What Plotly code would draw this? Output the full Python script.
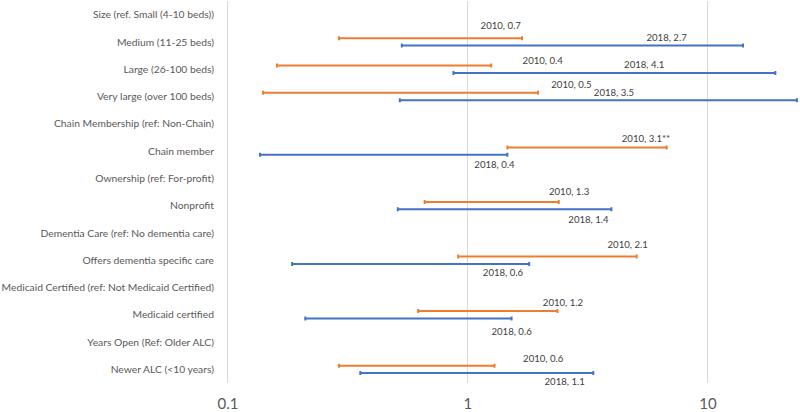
import math
import plotly.graph_objects as go

categories = [
    "Size (ref. Small (4-10 beds))",
    "Medium (11-25 beds)",
    "Large (26-100 beds)",
    "Very large (over 100 beds)",
    "Chain Membership (ref: Non-Chain)",
    "Chain member",
    "Ownership (ref: For-profit)",
    "Nonprofit",
    "Dementia Care (ref: No dementia care)",
    "Offers dementia specific care",
    "Medicaid Certified (ref: Not Medicaid Certified)",
    "Medicaid certified",
    "Years Open (Ref: Older ALC)",
    "Newer ALC (<10 years)",
]

# 2010 odds ratios and 95% CI
or_2010 = [None, 0.7, 0.4, 0.5, None, 3.1, None, 1.3, None, 2.1, None, 1.2, None, 0.6]
lo_2010 = [None, 0.29, 0.16, 0.14, None, 1.46, None, 0.66, None, 0.91, None, 0.62, None, 0.29]
hi_2010 = [None, 1.68, 1.25, 1.96, None, 6.73, None, 2.39, None, 5.05, None, 2.36, None, 1.29]
lab_2010 = [None, "2010, 0.7", "2010, 0.4", "2010, 0.5", None, "2010, 3.1**", None,
            "2010, 1.3", None, "2010, 2.1", None, "2010, 1.2", None, "2010, 0.6"]

# 2018 odds ratios and 95% CI
or_2018 = [None, 2.7, 4.1, 3.5, None, 0.4, None, 1.4, None, 0.6, None, 0.6, None, 1.1]
lo_2018 = [None, 0.53, 0.87, 0.52, None, 0.136, None, 0.51, None, 0.185, None, 0.21, None, 0.356]
hi_2018 = [None, 14.0, 19.1, 23.5, None, 1.46, None, 3.96, None, 1.80, None, 1.52, None, 3.33]
lab_2018 = [None, "2018, 2.7", "2018, 4.1", "2018, 3.5", None, "2018, 0.4", None,
            "2018, 1.4", None, "2018, 0.6", None, "2018, 0.6", None, "2018, 1.1"]

x_ticks = [0.1, 1, 10]
x_tick_labels = ["0.1", "1", "10"]

# label placement (layout, not data)
lab_x_2010 = [None, 1.37, 2.05, 2.70, None, 5.52, None, 2.64, None, 4.63, None, 2.49, None, 2.06]
lab_dy_2010 = [None, -0.56, -0.29, -0.385, None, -0.407, None, -0.49, None, -0.533, None, -0.423, None, -0.345]
lab_x_2018 = [None, 6.73, 5.43, 4.06, None, 1.29, None, 3.18, None, 1.40, None, 1.52, None, 2.53]
lab_dy_2018 = [None, -0.108, -0.144, -0.118, None, 0.535, None, 0.55, None, 0.504, None, 0.64, None, 0.487]

ORANGE = "#ED7D31"
BLUE = "#4472C4"
OFF = 0.135
FONT = "Lato, sans-serif"

def build(ors, los, his, off):
    xs, ys, ep, em = [], [], [], []
    for i, (o, l, h) in enumerate(zip(ors, los, his)):
        if o is None:
            continue
        xs.append(o)
        ys.append(i + off)
        ep.append(h - o)
        em.append(o - l)
    return xs, ys, ep, em

fig = go.Figure()
for ors, los, his, off, col, name in [
    (or_2010, lo_2010, hi_2010, -OFF, ORANGE, "2010"),
    (or_2018, lo_2018, hi_2018, OFF, BLUE, "2018"),
]:
    xs, ys, ep, em = build(ors, los, his, off)
    fig.add_trace(go.Scatter(
        x=xs, y=ys, mode="markers", name=name,
        marker=dict(size=1, color="rgba(0,0,0,0)"),
        error_x=dict(type="data", symmetric=False, array=ep, arrayminus=em,
                     color=col, thickness=2, width=2),
        showlegend=False, hoverinfo="skip",
    ))

for labs, lx, ldy in [(lab_2010, lab_x_2010, lab_dy_2010), (lab_2018, lab_x_2018, lab_dy_2018)]:
    xs, ys, ts = [], [], []
    for i, (t, x, dy) in enumerate(zip(labs, lx, ldy)):
        if t is None:
            continue
        xs.append(x)
        ys.append(i + dy)
        ts.append(t)
    fig.add_trace(go.Scatter(
        x=xs, y=ys, mode="text", text=ts, textposition="middle center",
        textfont=dict(family=FONT, size=9.6, color="#404040"),
        showlegend=False, hoverinfo="skip", cliponaxis=False,
    ))

fig.update_layout(
    width=800, height=412,
    margin=dict(l=228, r=0, t=1, b=29, autoexpand=False),
    paper_bgcolor="white", plot_bgcolor="white",
    font=dict(family=FONT, color="#595959"),
)
fig.update_xaxes(
    type="log", range=[-1, math.log10(24.2)],
    tickvals=x_ticks, ticktext=x_tick_labels,
    tickfont=dict(size=15, color="#595959"),
    showgrid=True, gridcolor="#d9d9d9", gridwidth=1,
    zeroline=False, showline=False, ticks="", ticklabelstandoff=10,
    automargin=False,
)
fig.update_yaxes(
    range=[len(categories) - 0.5, -0.5],
    tickvals=list(range(len(categories))), ticktext=categories,
    tickfont=dict(size=10.3, color="#595959"),
    showgrid=False, zeroline=False,
    showline=True, linecolor="#d9d9d9", linewidth=1,
    ticks="", ticklabelstandoff=11,
    automargin=False,
)

fig.write_html("out.html", config={"displayModeBar": False},
               post_script="document.body.style.margin='0';")
